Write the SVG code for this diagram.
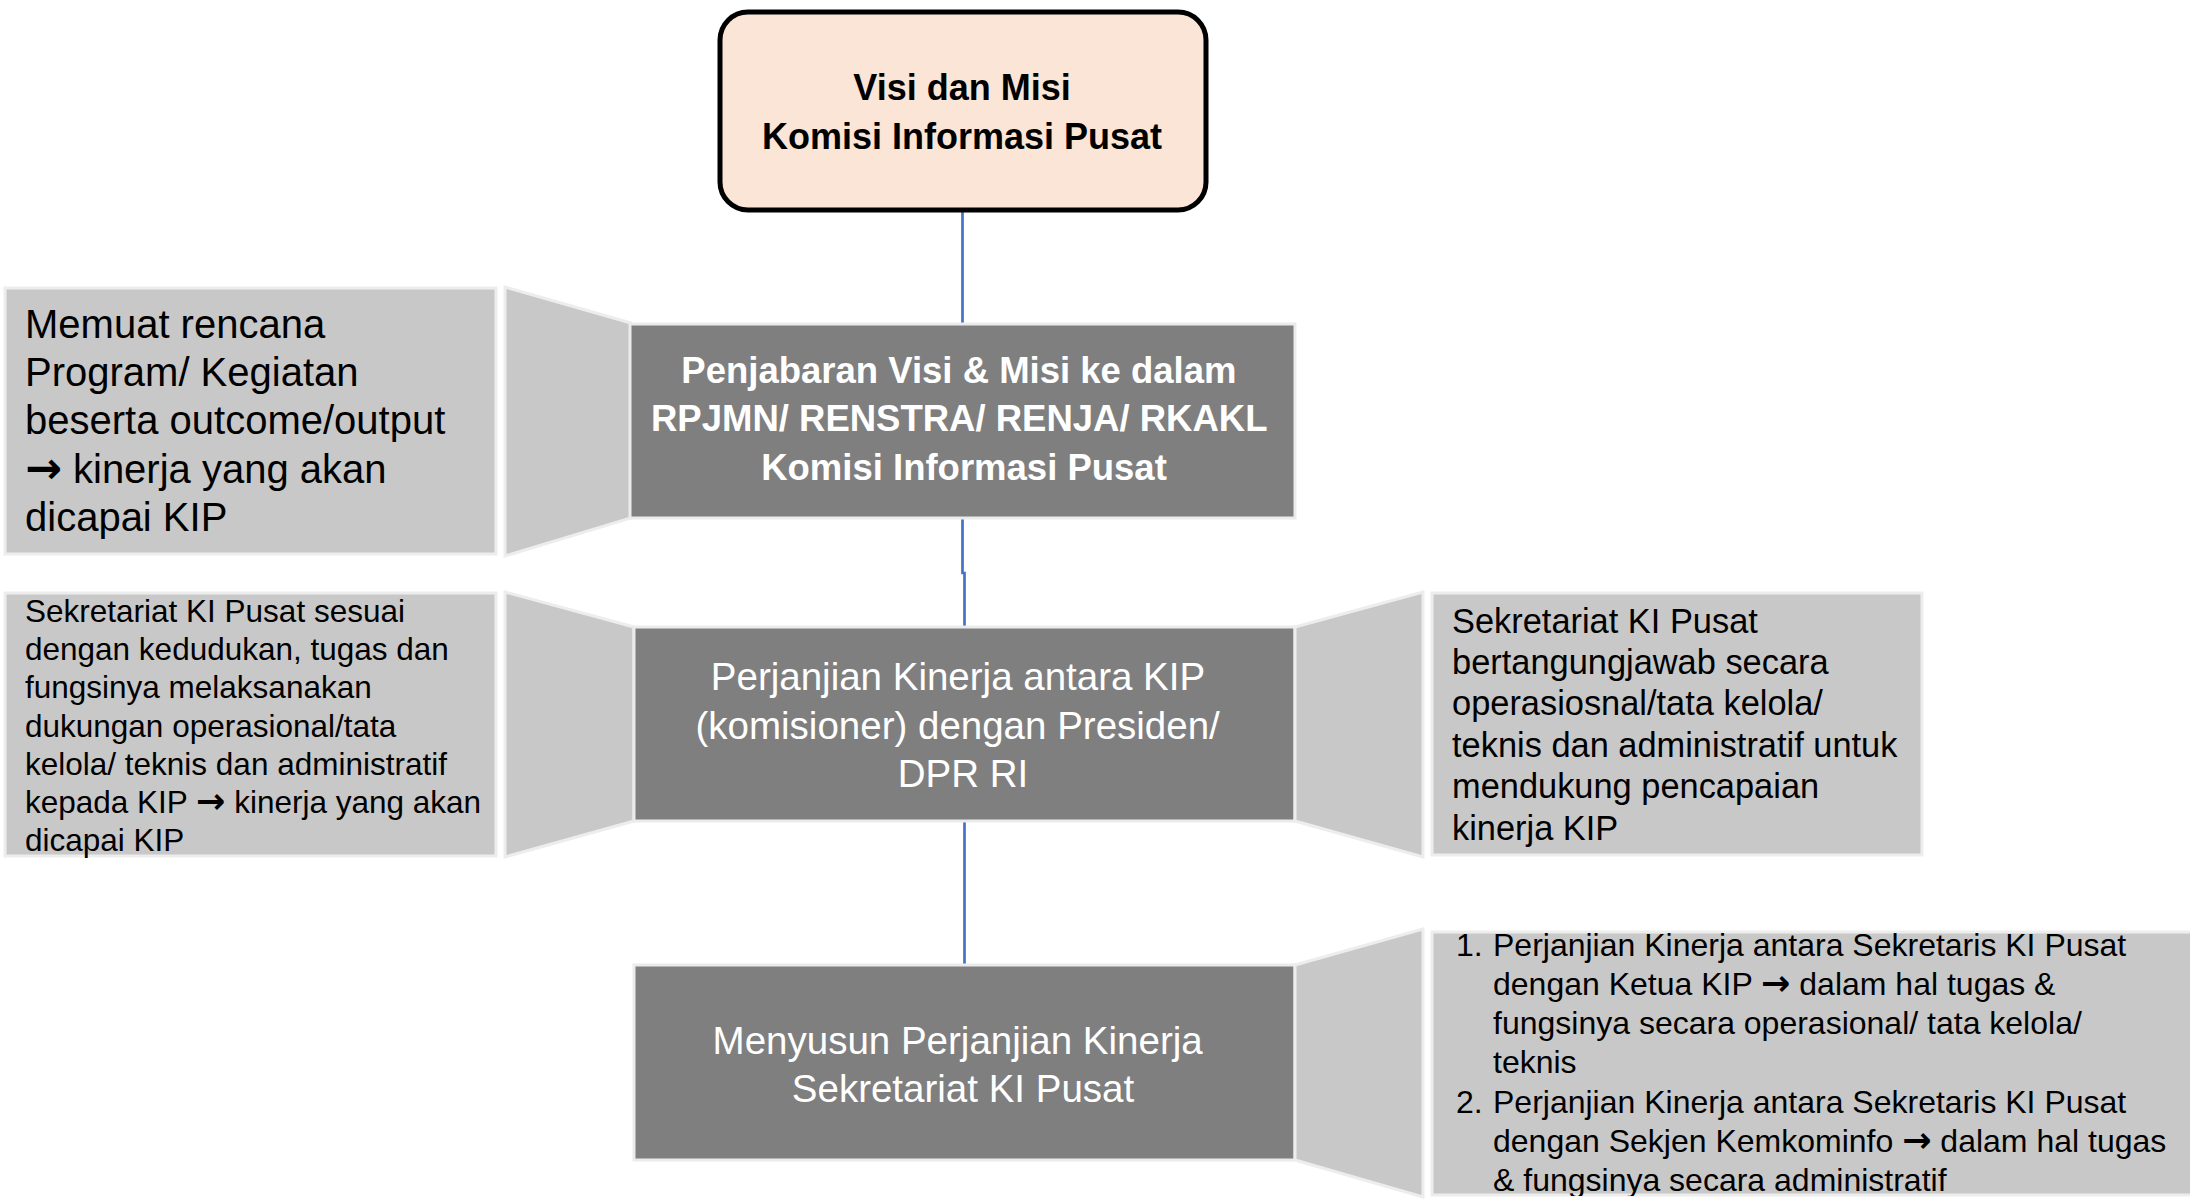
<svg xmlns="http://www.w3.org/2000/svg" width="2190" height="1200" viewBox="0 0 2190 1200">
  <style>
    .t { font-family: "Liberation Sans", Arial, sans-serif; }
    .ar { font-family: "DejaVu Sans", "Liberation Sans", sans-serif; font-weight: bold; }
    .dark { fill: #7F7F7F; stroke: #EBEBEB; stroke-width: 3; }
    .light { fill: #C8C8C8; stroke: #EDEDED; stroke-width: 3; }
    .conn { fill: none; stroke: #4472C4; stroke-width: 2.7; }
    .wt { fill: #FFFFFF; }
    .bk { fill: #000000; }
  </style>
  <defs>
    <clipPath id="clip4">
      <rect x="1432" y="931" width="758" height="265"/>
    </clipPath>
  </defs>

  <rect x="0" y="0" width="2190" height="1200" fill="#FFFFFF"/>

  <g id="connectors">
    <line class="conn" x1="962.5" y1="212" x2="962.5" y2="324"/>
    <polyline class="conn" points="962.5,518 962.5,573 964.5,573 964.5,627"/>
    <line class="conn" x1="964.5" y1="821" x2="964.5" y2="965"/>
  </g>

  <g id="visi">
    <rect x="720" y="12" width="486" height="198" rx="28" ry="28" fill="#FBE5D6" stroke="#000000" stroke-width="5"/>
    <text class="t bk" x="962" y="100" font-size="36" font-weight="bold" text-anchor="middle">Visi dan Misi</text>
    <text class="t bk" x="962" y="149" font-size="36" font-weight="bold" text-anchor="middle">Komisi Informasi Pusat</text>
  </g>

  <g id="note-memuat">
    <rect class="light" x="5" y="288" width="491" height="266"/>
    <polygon class="light" points="505,287 631,323 631,518 505,556"/>
    <text class="t bk" font-size="40">
      <tspan x="25" y="338">Memuat rencana</tspan>
      <tspan x="25" y="386">Program/ Kegiatan</tspan>
      <tspan x="25" y="434">beserta outcome/output</tspan>
      <tspan x="25" y="483"><tspan class="ar" font-size="44">→</tspan> kinerja yang akan</tspan>
      <tspan x="25" y="531">dicapai KIP</tspan>
    </text>
  </g>

  <g id="penjabaran">
    <rect class="dark" x="630" y="324" width="665" height="194"/>
    <text class="t wt" font-size="36.5" font-weight="bold" text-anchor="middle">
      <tspan x="964" y="383">Penjabaran Visi &amp; Misi ke dalam</tspan>
      <tspan x="964" y="431">RPJMN/ RENSTRA/ RENJA/ RKAKL</tspan>
      <tspan x="964" y="480">Komisi Informasi Pusat</tspan>
    </text>
  </g>

  <g id="note-sekretariat-left">
    <rect class="light" x="5" y="593" width="491" height="263"/>
    <polygon class="light" points="505,592 634,627 634,821 505,857"/>
    <text class="t bk" font-size="31.5">
      <tspan x="25" y="622">Sekretariat KI Pusat sesuai</tspan>
      <tspan x="25" y="660">dengan kedudukan, tugas dan</tspan>
      <tspan x="25" y="698">fungsinya melaksanakan</tspan>
      <tspan x="25" y="737">dukungan operasional/tata</tspan>
      <tspan x="25" y="775">kelola/ teknis dan administratif</tspan>
      <tspan x="25" y="813">kepada KIP <tspan class="ar" font-size="35">→</tspan> kinerja yang akan</tspan>
      <tspan x="25" y="851">dicapai KIP</tspan>
    </text>
  </g>

  <g id="perjanjian-kip">
    <rect class="dark" x="634" y="627" width="661" height="194"/>
    <text class="t wt" font-size="38.5" text-anchor="middle">
      <tspan x="963" y="690">Perjanjian Kinerja antara KIP</tspan>
      <tspan x="963" y="739">(komisioner) dengan Presiden/</tspan>
      <tspan x="963" y="787">DPR RI</tspan>
    </text>
  </g>

  <g id="note-sekretariat-right">
    <polygon class="light" points="1295,627 1423,592 1423,857 1295,821"/>
    <rect class="light" x="1432" y="593" width="490" height="262"/>
    <text class="t bk" font-size="34.4">
      <tspan x="1452" y="633">Sekretariat KI Pusat</tspan>
      <tspan x="1452" y="674">bertangungjawab secara</tspan>
      <tspan x="1452" y="715">operasiosnal/tata kelola/</tspan>
      <tspan x="1452" y="757">teknis dan administratif untuk</tspan>
      <tspan x="1452" y="798">mendukung pencapaian</tspan>
      <tspan x="1452" y="840">kinerja KIP</tspan>
    </text>
  </g>

  <g id="menyusun">
    <rect class="dark" x="634" y="965" width="661" height="195"/>
    <text class="t wt" font-size="38.5" text-anchor="middle">
      <tspan x="963" y="1054">Menyusun Perjanjian Kinerja</tspan>
      <tspan x="963" y="1102">Sekretariat KI Pusat</tspan>
    </text>
  </g>

  <g id="note-perjanjian-sekretaris">
    <polygon class="light" points="1295,965 1423,929 1423,1197 1295,1160"/>
    <rect class="light" x="1432" y="932" width="770" height="263"/>
    <g clip-path="url(#clip4)">
      <text class="t bk" font-size="32">
        <tspan x="1456" y="956">1.</tspan>
        <tspan x="1493" y="956">Perjanjian Kinerja antara Sekretaris KI Pusat</tspan>
        <tspan x="1493" y="995">dengan Ketua KIP <tspan class="ar" font-size="35">→</tspan> dalam hal tugas &amp;</tspan>
        <tspan x="1493" y="1034">fungsinya secara operasional/ tata kelola/</tspan>
        <tspan x="1493" y="1073">teknis</tspan>
        <tspan x="1456" y="1113">2.</tspan>
        <tspan x="1493" y="1113">Perjanjian Kinerja antara Sekretaris KI Pusat</tspan>
        <tspan x="1493" y="1152">dengan Sekjen Kemkominfo <tspan class="ar" font-size="35">→</tspan> dalam hal tugas</tspan>
        <tspan x="1493" y="1191">&amp; fungsinya secara administratif</tspan>
      </text>
    </g>
  </g>
</svg>
